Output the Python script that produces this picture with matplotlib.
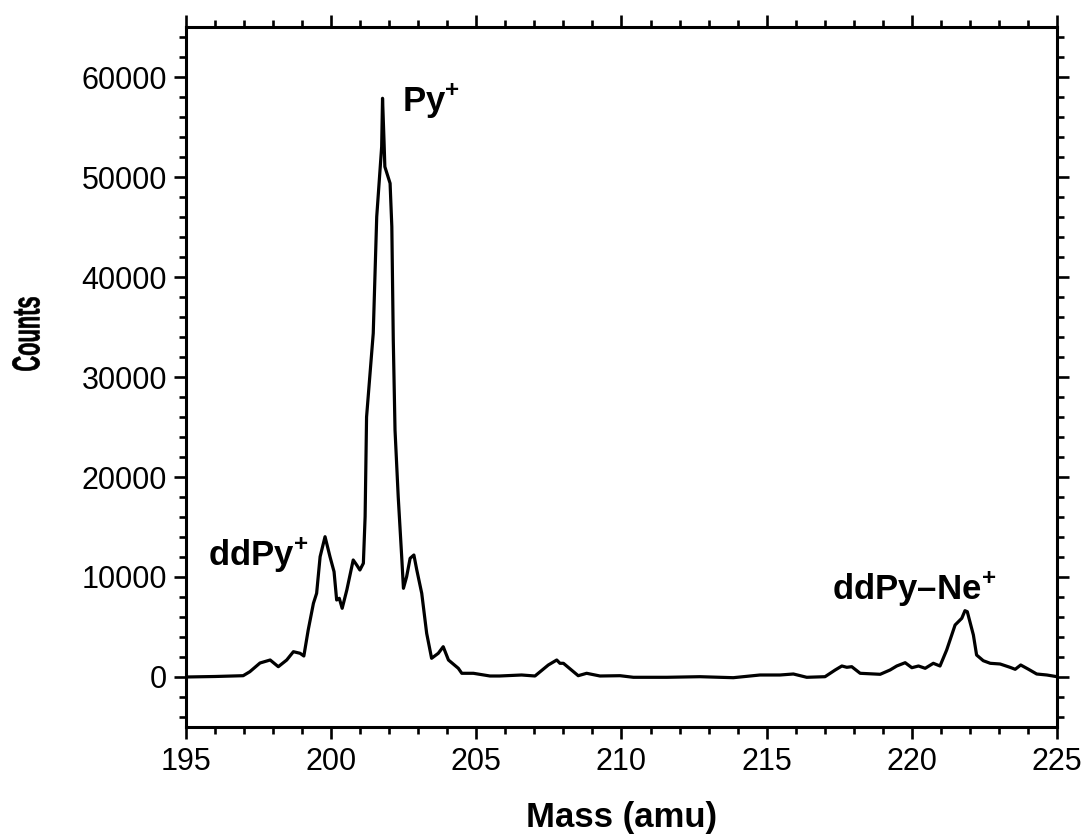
import matplotlib
matplotlib.use("Agg")
import matplotlib.pyplot as plt
import numpy as np
from matplotlib.textpath import TextPath
from matplotlib.patches import PathPatch
from matplotlib.font_manager import FontProperties
from matplotlib.transforms import Affine2D

plt.rcParams['font.family'] = ['Liberation Sans', 'DejaVu Sans']
plt.rcParams['mathtext.fontset'] = 'custom'
plt.rcParams['mathtext.bf'] = 'Liberation Sans:bold'
plt.rcParams['mathtext.rm'] = 'Liberation Sans'

# mass spectrum trace (amu, counts)
mass = [195.0, 196.0, 196.97, 197.2, 197.55, 197.9, 198.18, 198.47, 198.7,
        198.93, 199.06, 199.21, 199.39, 199.5, 199.62, 199.79, 199.96, 200.1,
        200.19, 200.28, 200.38, 200.54, 200.76, 200.88, 200.99, 201.11, 201.17,
        201.22, 201.45, 201.57, 201.74, 201.77, 201.82, 201.85, 202.03, 202.09,
        202.14, 202.2, 202.31, 202.43, 202.49, 202.6, 202.72, 202.85, 202.95,
        203.12, 203.29, 203.46, 203.69, 203.86, 204.04, 204.38, 204.5, 204.9,
        205.47, 205.8, 206.56, 207.02, 207.48, 207.77, 207.88, 208.0, 208.51,
        208.8, 209.26, 209.95, 210.41, 211.56, 212.7, 213.85, 214.77, 215.46,
        215.92, 216.38, 217.01, 217.36, 217.59, 217.76, 217.93, 218.22, 218.91,
        219.25, 219.48, 219.77, 220.0, 220.23, 220.46, 220.74, 220.97, 221.2,
        221.49, 221.72, 221.83, 221.91, 222.12, 222.23, 222.46, 222.7, 223.04,
        223.38, 223.56, 223.75, 224.02, 224.3, 224.65, 225.0]
counts = [0, 50, 130, 530, 1400, 1700, 1030, 1700, 2530,
          2370, 2100, 4700, 7370, 8370, 12030, 14030, 12030, 10530,
          7700, 7870, 6870, 8700, 11700, 11200, 10700, 11370, 16030,
          26000, 34370, 46030, 53030, 57870, 53700, 51030, 49370, 45030,
          33700, 24700, 18030, 12030, 8870, 10030, 11870, 12200, 10700,
          8370, 4370, 1870, 2370, 3030, 1700, 870, 370, 370,
          100, 100, 200, 100, 1200, 1700, 1370, 1370, 130,
          370, 100, 130, -30, -30, 30, -70, 200, 200,
          300, -30, 30, 700, 1100, 970, 1030, 370, 270,
          700, 1100, 1430, 930, 1100, 870, 1370, 1100, 2700,
          5200, 5870, 6630, 6530, 4200, 2200, 1630, 1370, 1300,
          970, 770, 1200, 770, 300, 200, 30]

peak_labels = ['Py$^{\\mathbf{+}}$', 'ddPy$^{\\mathbf{+}}$', 'ddPy\u2013Ne$^{\\mathbf{+}}$']
label_mass = [202.44, 195.76, 217.25]
label_counts = [56500, 11100, 7700]

fig = plt.figure(figsize=(10.85, 8.39), dpi=100)
ax = fig.add_axes([0.1714, 0.1335, 0.8028, 0.8343])

ax.plot(mass, counts, color='black', lw=2.3)

ax.set_xlim(195, 225)
ax.set_ylim(-5000, 65000)
ax.set_xticks(np.arange(195, 226, 5))
ax.set_xticks(np.arange(195, 226, 1), minor=True)
ax.set_yticks(np.arange(0, 60001, 10000))
ax.set_yticks(np.arange(-4000, 65000, 2000), minor=True)

for s in ax.spines.values():
    s.set_linewidth(2.2)
ax.tick_params(which='both', direction='out', top=True, right=True,
               width=1.9, labelsize=22)
ax.tick_params(which='major', length=8.5)
ax.tick_params(which='minor', length=5)
ax.tick_params(axis='x', pad=6)
ax.tick_params(axis='y', pad=5)

ax.set_xlabel('Mass (amu)', fontsize=25, fontweight='bold', labelpad=17)

# condensed, rotated y label drawn as a path in pixel coordinates
fp = FontProperties(family='Liberation Sans', weight='bold')
tp = TextPath((0, 0), 'Counts', size=39, prop=fp)
ext = tp.get_extents()
cx, cy = (ext.x0 + ext.x1) / 2, (ext.y0 + ext.y1) / 2
tr = (Affine2D().translate(-cx, -cy).scale(0.56, 1.0).rotate_deg(90)
      .translate(26, 839 - 334))
fig.patches.append(PathPatch(tr.transform_path(tp), fc='black', ec='black',
                             lw=0.4, transform=None, figure=fig))

for txt, m, c in zip(peak_labels, label_mass, label_counts):
    ax.text(m, c, txt, fontsize=25, fontweight='bold', ha='left', va='baseline')

fig.savefig('out.png', dpi=100)
